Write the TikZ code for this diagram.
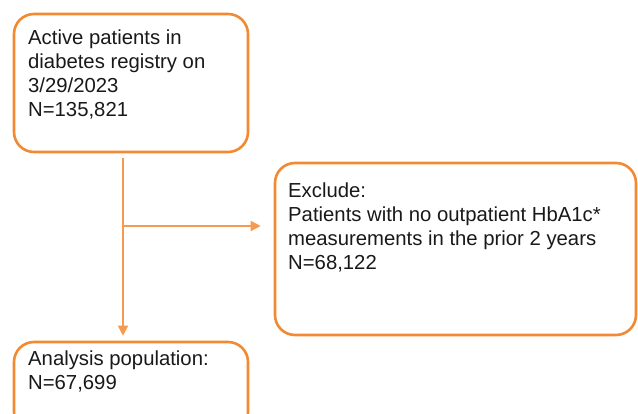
\documentclass[tikz,border=0pt]{standalone}
\usepackage{fontspec}
\setmainfont{Liberation Sans}
\usetikzlibrary{arrows.meta,positioning}
\definecolor{boxorange}{HTML}{F28A32}
\definecolor{lineorange}{HTML}{F59A4E}
\begin{document}
\begin{tikzpicture}[x=1pt,y=1pt,
  flowbox/.style={draw=boxorange, line width=2.6pt, rounded corners=20pt, inner sep=0pt, fill=white},
  boxtext/.style={anchor=north west, inner sep=0pt, align=left, font=\fontsize{20.3}{23.8}\selectfont, text=black!90},
  conn/.style={draw=lineorange, line width=1.5pt, -{Triangle[length=10pt,width=10pt]}}
]
\useasboundingbox (0,0) rectangle (638,413);
\clip (0,0) rectangle (638,413);
% boxes
\node[flowbox, minimum width=234pt, minimum height=138pt] (box1) at (131,330) {};
\node[flowbox, minimum width=361pt, minimum height=172pt] (box2) at (455.5,164) {};
\node[flowbox, minimum width=234pt, minimum height=90pt] (box3) at (131,26) {};
% texts
\node[boxtext] (t1) at (28,383) {Active patients in\\diabetes registry on\\3/29/2023\\N=135,821};
\node[boxtext] (t2) at (288,230) {Exclude:\\Patients with no outpatient HbA1c*\\measurements in the prior 2 years\\N=68,122};
\node[boxtext] (t3) at (28,62.5) {Analysis population:\\N=67,699};
% connectors
\coordinate (s) at (123,255);
\coordinate (j) at (123,187);
\draw[conn] (s) -- ([yshift=5pt]box3.north -| s);
\draw[conn] (j) -- ([xshift=-13pt]box2.west |- j);
\end{tikzpicture}
\end{document}
